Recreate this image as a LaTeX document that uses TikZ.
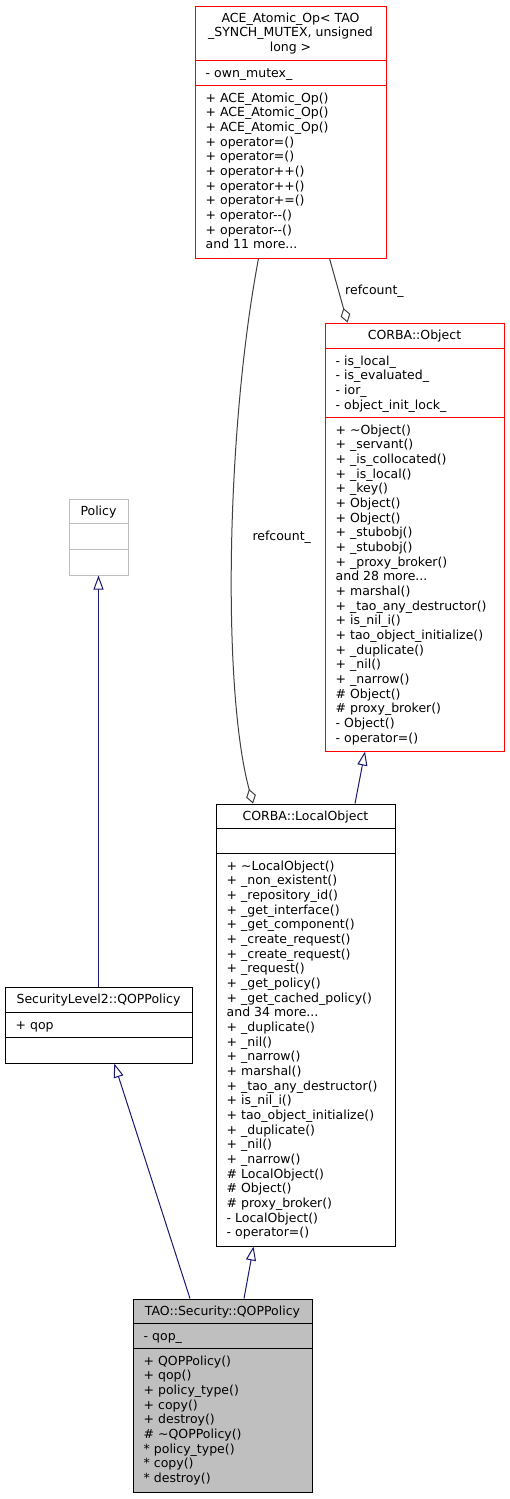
\documentclass[tikz,border=0pt]{standalone}
\usepackage{fontspec}
\newfontfamily\dv{DejaVu Sans}[Ligatures=TeXOff]
\usetikzlibrary{arrows.meta}
\definecolor{navyline}{HTML}{191970}
\definecolor{aggline}{HTML}{404040}
\definecolor{boxred}{HTML}{FF0000}
\definecolor{boxgrey}{HTML}{BFBFBF}
\newcommand\ddd{...}
\newcommand\mklines[5]{%
  \foreach \t [count=\i from 0] in {#5} {%
    \node[txt, anchor=#4] (#1\i) at (#2, {#3+\i*14.667}) {\t};}}
\begin{document}
\begin{tikzpicture}[x=1pt,y=-1pt,
  txt/.style={inner sep=0pt, font=\dv\fontsize{12.5}{14.67}\selectfont},
  box/.style={draw, line width=1pt, inner sep=0pt, rectangle},
  divider/.style={line width=1pt},
  inh/.style={draw=navyline, line width=1pt, -{Triangle[open, length=14pt, width=10pt, fill=white]}},
  agg/.style={draw=aggline, line width=1pt, -{Diamond[open, length=15pt, width=10pt, fill=white]}}]
\useasboundingbox (0,0) rectangle (509,1499);

% ACE_Atomic_Op
\node[box, draw=boxred, minimum width=191pt, minimum height=252pt] (ace) at (290.5,132) {};
\draw[divider, boxred] ([yshift=-55pt]ace.north west) -- ([yshift=-55pt]ace.north east);
\draw[divider, boxred] ([yshift=-80pt]ace.north west) -- ([yshift=-80pt]ace.north east);
\mklines{aceh}{290.5}{22}{base}{ACE\_Atomic\_Op< TAO, {\_SYNCH\_MUTEX, unsigned}, long >}
\mklines{acea}{205.5}{77}{base west}{- own\_mutex\_}
\mklines{acem}{205.5}{102}{base west}{+ ACE\_Atomic\_Op(), + ACE\_Atomic\_Op(), + ACE\_Atomic\_Op(), + operator=(), + operator=(), + operator++(), + operator++(), + operator+=(), + operator--(), + operator--(), and 11 more\ddd}

% CORBA::Object
\node[box, draw=boxred, minimum width=179pt, minimum height=428pt] (obj) at (414.5,537) {};
\draw[divider, boxred] ([yshift=-26pt]obj.north west) -- ([yshift=-26pt]obj.north east);
\draw[divider, boxred] ([yshift=-95pt]obj.north west) -- ([yshift=-95pt]obj.north east);
\mklines{objh}{414.5}{339}{base}{CORBA::Object}
\mklines{obja}{335.5}{365}{base west}{- is\_local\_, - is\_evaluated\_, - ior\_, - object\_init\_lock\_}
\mklines{objm}{335.5}{434}{base west}{+ \textasciitilde Object(), + \_servant(), + \_is\_collocated(), + \_is\_local(), + \_key(), + Object(), + Object(), + \_stubobj(), + \_stubobj(), + \_proxy\_broker(), and 28 more\ddd, + marshal(), + \_tao\_any\_destructor(), + is\_nil\_i(), + tao\_object\_initialize(), + \_duplicate(), + \_nil(), + \_narrow(), \# Object(), \# proxy\_broker(), - Object(), - operator=()}

% CORBA::LocalObject
\node[box, draw=black, minimum width=179pt, minimum height=442pt] (lo) at (305.5,1025) {};
\draw[divider] ([yshift=-25pt]lo.north west) -- ([yshift=-25pt]lo.north east);
\draw[divider] ([yshift=-50pt]lo.north west) -- ([yshift=-50pt]lo.north east);
\mklines{loh}{305.5}{820}{base}{CORBA::LocalObject}
\mklines{lom}{226.5}{870}{base west}{+ \textasciitilde LocalObject(), + \_non\_existent(), + \_repository\_id(), + \_get\_interface(), + \_get\_component(), + \_create\_request(), + \_create\_request(), + \_request(), + \_get\_policy(), + \_get\_cached\_policy(), and 34 more\ddd, + \_duplicate(), + \_nil(), + \_narrow(), + marshal(), + \_tao\_any\_destructor(), + is\_nil\_i(), + tao\_object\_initialize(), + \_duplicate(), + \_nil(), + \_narrow(), \# LocalObject(), \# Object(), \# proxy\_broker(), - LocalObject(), - operator=()}

% Policy
\node[box, draw=boxgrey, minimum width=59pt, minimum height=76pt] (policy) at (98.5,537) {};
\draw[divider, boxgrey] ([yshift=-25pt]policy.north west) -- ([yshift=-25pt]policy.north east);
\draw[divider, boxgrey] ([yshift=-51pt]policy.north west) -- ([yshift=-51pt]policy.north east);
\mklines{polh}{98.5}{515}{base}{Policy}

% SecurityLevel2::QOPPolicy
\node[box, draw=black, minimum width=187pt, minimum height=76pt] (sl2) at (98.5,1025) {};
\draw[divider] ([yshift=-26pt]sl2.north west) -- ([yshift=-26pt]sl2.north east);
\draw[divider] ([yshift=-51pt]sl2.north west) -- ([yshift=-51pt]sl2.north east);
\mklines{sl2h}{98.5}{1003}{base}{SecurityLevel2::QOPPolicy}
\mklines{sl2a}{15.5}{1029}{base west}{+ qop}

% TAO::Security::QOPPolicy
\node[box, draw=black, fill=boxgrey, minimum width=179pt, minimum height=193pt] (tao) at (222.5,1395.5) {};
\draw[divider] ([yshift=-25pt]tao.north west) -- ([yshift=-25pt]tao.north east);
\draw[divider] ([yshift=-50pt]tao.north west) -- ([yshift=-50pt]tao.north east);
\mklines{taoh}{222.5}{1315}{base}{TAO::Security::QOPPolicy}
\mklines{taoa}{143.5}{1340}{base west}{- qop\_}
\mklines{taom}{143.5}{1365}{base west}{+ QOPPolicy(), + qop(), + policy\_type(), + copy(), + destroy(), \# \textasciitilde QOPPolicy(), * policy\_type(), * copy(), * destroy()}

% connectors
\draw[inh] (sl2.north) -- (policy.south);
\draw[inh] ([xshift=-32.5pt]tao.north) -- ([xshift=15.8pt]sl2.south);
\draw[inh] ([xshift=21.5pt]tao.north) -- ([xshift=-52pt]lo.south);
\draw[inh] ([xshift=49.5pt]lo.north) -- ([xshift=-49.5pt]obj.south);
\draw[agg] ([xshift=39pt]ace.south) -- ([xshift=-67pt]obj.north);
\draw[agg] ([xshift=-32pt]ace.south) .. controls (226,430) and (222,690) .. ([xshift=-52.5pt]lo.north);
\node[txt, anchor=base west] (rc1) at (345,294) {refcount\_};
\node[txt, anchor=base west] (rc2) at (252.3,540.5) {refcount\_};
\end{tikzpicture}
\end{document}
